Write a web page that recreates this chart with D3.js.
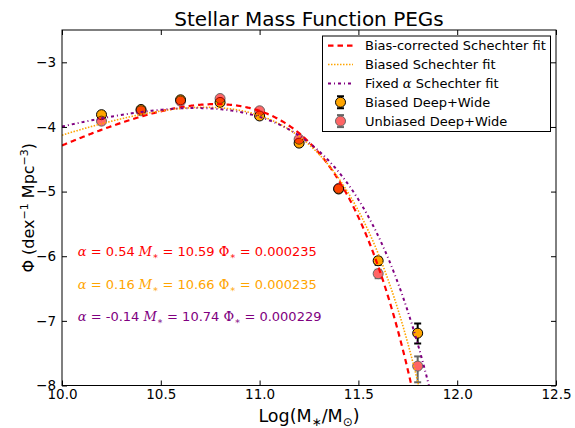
<!DOCTYPE html>
<html>
<head>
<meta charset="utf-8">
<script src="https://cdn.jsdelivr.net/npm/d3@7"></script>
<style>
  html, body { margin: 0; padding: 0; background: #fff; }
  svg { display: block; }
  text { font-family: "DejaVu Sans", sans-serif; }
</style>
</head>
<body>
<svg id="chart" width="575" height="428"></svg>
<script>
// ---- data -------------------------------------------------------------
const massBins      = [10.2, 10.4, 10.6, 10.8, 11.0, 11.2, 11.4, 11.6, 11.8];
const biasedPhi     = [-3.81, -3.73, -3.58, -3.62, -3.83, -4.25, -4.96, -6.07, -7.19];
const biasedErrLo   = [0.03, 0.03, 0.03, 0.03, 0.03, 0.03, 0.04, 0.06, 0.16];
const biasedErrHi   = [0.03, 0.03, 0.03, 0.03, 0.03, 0.03, 0.04, 0.05, 0.15];
const unbiasedPhi   = [-3.91, -3.75, -3.60, -3.56, -3.75, -4.19, -4.95, -6.27, -7.70];
const unbiasedErrLo = [0.03, 0.03, 0.03, 0.03, 0.03, 0.03, 0.04, 0.07, 0.25];
const unbiasedErrHi = [0.03, 0.03, 0.03, 0.03, 0.03, 0.03, 0.04, 0.06, 0.15];

// Schechter fit parameters
const fitLabels  = ["Bias-corrected Schechter fit", "Biased Schechter fit", "Fixed \u03b1 Schechter fit"];
const fitAlpha   = [0.54, 0.16, -0.14];
const fitMStar   = [10.59, 10.66, 10.74];
const fitPhiStar = [0.000235, 0.000235, 0.000229];
const fitColors  = ["#ff0000", "#ffa500", "#800080"];

const pointLabels = ["Biased Deep+Wide", "Unbiased Deep+Wide"];

const xTicks = [10.0, 10.5, 11.0, 11.5, 12.0, 12.5];
const yTicks = [-8, -7, -6, -5, -4, -3];

// ---- layout -----------------------------------------------------------
const svg = d3.select("#chart");
const plotL = 62, plotR = 556, plotT = 30, plotB = 385.5;

const x = d3.scaleLinear().domain([10, 12.5]).range([plotL, plotR]);
const y = d3.scaleLinear().domain([-8, -2.5]).range([plotB, plotT]);

const serif = "'DejaVu Serif', serif";

// log10 of the Schechter function per dex
function schechterLog(m, alpha, mStar, phiStar) {
  const r = Math.pow(10, m - mStar);
  return Math.log10(Math.LN10 * phiStar * Math.pow(r, alpha + 1) * Math.exp(-r));
}

svg.append("defs").append("clipPath").attr("id", "plotClip")
  .append("rect").attr("x", plotL).attr("y", plotT)
  .attr("width", plotR - plotL).attr("height", plotB - plotT);

// ---- axes (ticks pointing inward on all four sides) -------------------
const tickFont = 13.5;
const fmtX = d3.format(".1f");
const fmtY = d3.format("d");

const gx = svg.append("g").attr("transform", `translate(0,${plotB})`)
  .call(d3.axisBottom(x).tickValues(xTicks).tickFormat(fmtX).tickSizeInner(-5).tickSizeOuter(0).tickPadding(4));
const gxt = svg.append("g").attr("transform", `translate(0,${plotT})`)
  .call(d3.axisTop(x).tickValues(xTicks).tickFormat("").tickSizeInner(-5).tickSizeOuter(0));
const gy = svg.append("g").attr("transform", `translate(${plotL},0)`)
  .call(d3.axisLeft(y).tickValues(yTicks).tickFormat(fmtY).tickSizeInner(-5).tickSizeOuter(0).tickPadding(6));
const gyr = svg.append("g").attr("transform", `translate(${plotR},0)`)
  .call(d3.axisRight(y).tickValues(yTicks).tickFormat("").tickSizeInner(-5).tickSizeOuter(0));

[gx, gxt, gy, gyr].forEach(g => {
  g.select(".domain").remove();
  g.selectAll(".tick line").attr("stroke", "#000").attr("stroke-width", 1);
  g.selectAll(".tick text").attr("font-family", "'DejaVu Sans', sans-serif")
    .attr("font-size", tickFont).attr("fill", "#000");
});

// ---- data points with error bars --------------------------------------
const plot = svg.append("g").attr("clip-path", "url(#plotClip)");

function drawErrorSet(g, vals, lo, hi, opts) {
  const grp = g.append("g").attr("opacity", opts.opacity);
  const pts = massBins.map((m, i) => ({ m, v: vals[i], lo: lo[i], hi: hi[i] }));
  grp.selectAll("line.bar").data(pts).join("line").attr("class", "bar")
    .attr("x1", d => x(d.m)).attr("x2", d => x(d.m))
    .attr("y1", d => y(d.v - d.lo)).attr("y2", d => y(d.v + d.hi))
    .attr("stroke", opts.barColor).attr("stroke-width", 2);
  ["lo", "hi"].forEach(k => {
    grp.selectAll("line.cap" + k).data(pts).join("line").attr("class", "cap" + k)
      .attr("x1", d => x(d.m) - 3.5).attr("x2", d => x(d.m) + 3.5)
      .attr("y1", d => y(k === "lo" ? d.v - d.lo : d.v + d.hi))
      .attr("y2", d => y(k === "lo" ? d.v - d.lo : d.v + d.hi))
      .attr("stroke", opts.barColor).attr("stroke-width", 2);
  });
  grp.selectAll("circle").data(pts).join("circle")
    .attr("cx", d => x(d.m)).attr("cy", d => y(d.v)).attr("r", 5)
    .attr("fill", opts.fill).attr("stroke", opts.edge).attr("stroke-width", 1);
}

drawErrorSet(plot, biasedPhi, biasedErrLo, biasedErrHi,
  { opacity: 1, barColor: "#000", fill: "#ffa500", edge: "#000" });
drawErrorSet(plot, unbiasedPhi, unbiasedErrLo, unbiasedErrHi,
  { opacity: 0.6, barColor: "#000", fill: "#ff0000", edge: "#000" });

// ---- Schechter curves -------------------------------------------------
const dashes = ["5.5,4", "1.5,1.5", "3,3,1,3"];
const widths = [2.2, 1.6, 2];
const massGrid = d3.range(10.0, 12.5001, 0.004);
const line = d3.line().x(d => x(d[0])).y(d => y(d[1]));

fitAlpha.forEach((a, i) => {
  const pts = massGrid.map(m => [m, schechterLog(m, a, fitMStar[i], fitPhiStar[i])])
    .filter(p => p[1] > -9);
  plot.append("path").datum(pts).attr("d", line)
    .attr("fill", "none").attr("stroke", fitColors[i])
    .attr("stroke-width", widths[i]).attr("stroke-dasharray", dashes[i]);
});

// ---- frame ------------------------------------------------------------
svg.append("rect").attr("x", plotL).attr("y", plotT)
  .attr("width", plotR - plotL).attr("height", plotB - plotT)
  .attr("fill", "none").attr("stroke", "#000").attr("stroke-width", 1);

// ---- fit parameter annotations ----------------------------------------
const annY = [-6.0, -6.5, -7.0];
fitAlpha.forEach((a, i) => {
  const t = svg.append("text").attr("x", x(10.08)).attr("y", y(annY[i]))
    .attr("font-size", 13).attr("fill", fitColors[i]);
  t.append("tspan").attr("font-family", serif).attr("font-style", "italic").text("\u03b1");
  t.append("tspan").text(` = ${a.toFixed(2)} `);
  t.append("tspan").attr("font-family", serif).attr("font-style", "italic").text("M");
  t.append("tspan").attr("font-family", serif).attr("font-size", 9).attr("dy", 3).text("\u2217");
  t.append("tspan").attr("dy", -3).text(` = ${fitMStar[i].toFixed(2)} `);
  t.append("tspan").attr("font-family", serif).text("\u03a6");
  t.append("tspan").attr("font-family", serif).attr("font-size", 9).attr("dy", 3).text("\u2217");
  t.append("tspan").attr("dy", -3).text(` = ${fitPhiStar[i].toFixed(6)}`);
});

// ---- legend -----------------------------------------------------------
const lg = svg.append("g");
lg.append("rect").attr("x", 322.5).attr("y", 36).attr("width", 228).attr("height", 95.5)
  .attr("fill", "#fff").attr("stroke", "#000").attr("stroke-width", 1);
const rowY = i => 45.7 + i * 18.85;
const hx0 = 328, hx1 = 353, tx = 365;

fitLabels.forEach((lab, i) => {
  lg.append("line").attr("x1", hx0).attr("x2", hx1).attr("y1", rowY(i)).attr("y2", rowY(i))
    .attr("stroke", fitColors[i]).attr("stroke-width", widths[i]).attr("stroke-dasharray", dashes[i]);
  const t = lg.append("text").attr("x", tx).attr("y", rowY(i)).attr("dy", "0.36em").attr("font-size", 13);
  const parts = lab.split("\u03b1");
  t.append("tspan").text(parts[0]);
  if (parts.length > 1) {
    t.append("tspan").attr("font-family", serif).attr("font-style", "italic").text("\u03b1");
    t.append("tspan").text(parts[1]);
  }
});

const legendPts = [
  { fill: "#ffa500", opacity: 1 },
  { fill: "#ff0000", opacity: 0.6 }
];
legendPts.forEach((p, k) => {
  const cy = rowY(3 + k), cx = (hx0 + hx1) / 2;
  const g = lg.append("g").attr("opacity", p.opacity);
  g.append("line").attr("x1", cx).attr("x2", cx).attr("y1", cy - 6).attr("y2", cy + 6)
    .attr("stroke", "#000").attr("stroke-width", 2);
  [-6, 6].forEach(o => g.append("line").attr("x1", cx - 3.5).attr("x2", cx + 3.5)
    .attr("y1", cy + o).attr("y2", cy + o).attr("stroke", "#000").attr("stroke-width", 2));
  g.append("circle").attr("cx", cx).attr("cy", cy).attr("r", 5)
    .attr("fill", p.fill).attr("stroke", "#000").attr("stroke-width", 1);
  lg.append("text").attr("x", tx).attr("y", cy).attr("dy", "0.36em").attr("font-size", 13)
    .text(pointLabels[k]);
});

// ---- title and axis labels --------------------------------------------
svg.append("text").attr("x", (plotL + plotR) / 2).attr("y", 26)
  .attr("text-anchor", "middle").attr("font-size", 20).text("Stellar Mass Function PEGs");

const xl = svg.append("text").attr("x", (plotL + plotR) / 2).attr("y", 422)
  .attr("text-anchor", "middle").attr("font-family", serif).attr("font-size", 17.5);
xl.append("tspan").text("Log(M");
xl.append("tspan").attr("font-size", 12).attr("dy", 4).text("\u2217");
xl.append("tspan").attr("dy", -4).text("/M");
xl.append("tspan").attr("font-size", 12).attr("dy", 4).text("\u2299");
xl.append("tspan").attr("dy", -4).text(")");

const yl = svg.append("text")
  .attr("transform", `translate(34,${(plotT + plotB) / 2}) rotate(-90)`)
  .attr("text-anchor", "middle").attr("font-family", serif).attr("font-size", 16);
yl.append("tspan").text("\u03a6 (dex");
yl.append("tspan").attr("font-size", 11).attr("dy", -6).text("\u22121");
yl.append("tspan").attr("dy", 6).text(" Mpc");
yl.append("tspan").attr("font-size", 11).attr("dy", -6).text("\u22123");
yl.append("tspan").attr("dy", 6).text(")");
</script>
</body>
</html>
